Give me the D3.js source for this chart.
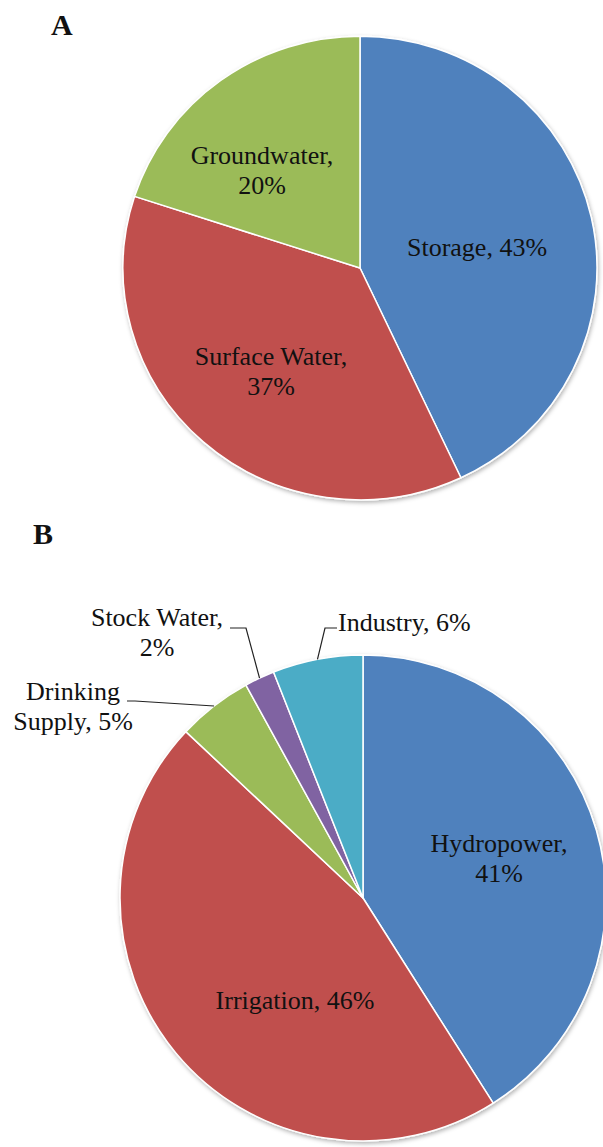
<!DOCTYPE html>
<head>
  <meta charset="utf-8">
  <script src="https://d3js.org/d3.v7.min.js"></script>
  <style>
    body { margin:0; background:#fff; }
    text { font-family: "Liberation Serif", "Times New Roman", serif; fill:#111; }
  </style>
</head>

<body>
  <script>

    var width = 603,
        height = 1147;

    // chart A: water sources
    var sourceNames = ["Storage", "Surface Water", "Groundwater"];
    var sourceShares = [43, 37, 20];
    var sourceColors = ["#4F81BD", "#C0504D", "#9BBB59"];

    // chart B: water uses
    var useNames = ["Hydropower", "Irrigation", "Drinking Supply", "Stock Water", "Industry"];
    var useShares = [41, 46, 5, 2, 6];
    var useColors = ["#4F81BD", "#C0504D", "#9BBB59", "#8064A2", "#4BACC6"];

    // label lines as they wrap in the picture
    var sourceLabels = [["Storage, 43%"], ["Surface Water,", "37%"], ["Groundwater,", "20%"]];
    var useLabels = [["Hydropower,", "41%"], ["Irrigation, 46%"], ["Drinking", "Supply, 5%"], ["Stock Water,", "2%"], ["Industry, 6%"]];

    var svg = d3.select("body").append("svg")
      .attr("width", width)
      .attr("height", height);

    var defs = svg.append("defs");
    var shadow = defs.append("filter").attr("id", "shadow")
      .attr("x", "-10%").attr("y", "-10%").attr("width", "120%").attr("height", "120%");
    shadow.append("feDropShadow")
      .attr("dx", 1).attr("dy", 2).attr("stdDeviation", 2)
      .attr("flood-color", "#000").attr("flood-opacity", 0.3);

    var pie = d3.pie().sort(null).value(function(d) { return d; });

    function drawPie(opt) {
      var g = svg.append("g").attr("transform", "translate(" + opt.cx + "," + opt.cy + ")");
      var arc = d3.arc().innerRadius(0).outerRadius(opt.r);
      var arcs = pie(opt.values);
      var color = d3.scaleOrdinal().domain(opt.names).range(opt.colors);

      var slices = g.append("g")
        .attr("transform", "scale(1," + (opt.sy || 1) + ")")
        .attr("filter", "url(#shadow)");
      slices.selectAll("path").data(arcs).enter()
        .append("path")
        .attr("d", arc)
        .attr("fill", function(d, i) { return color(opt.names[i]); })
        .attr("stroke", "#fff")
        .attr("stroke-width", 1.5)
        .attr("stroke-linejoin", "round");

      // leader lines for the small outside slices
      g.selectAll("path.leader").data(arcs.filter(function(d, i) { return opt.place[i].line; })).enter()
        .append("path")
        .attr("class", "leader")
        .attr("fill", "none")
        .attr("stroke", "#222")
        .attr("stroke-width", 1.2)
        .attr("d", function(d) {
          var i = d.index, p = opt.place[i];
          var a = (d.startAngle + d.endAngle) / 2;
          var end = [Math.sin(a) * opt.r, -Math.cos(a) * opt.r];
          return d3.line()(p.line.concat([end]));
        });

      var labels = g.selectAll("text.lbl").data(arcs).enter()
        .append("text")
        .attr("class", "lbl")
        .attr("font-size", 26)
        .attr("text-anchor", function(d) { return opt.place[d.index].anchor || "middle"; })
        .attr("x", function(d) { return opt.place[d.index].x; })
        .attr("y", function(d) { return opt.place[d.index].y; });

      labels.selectAll("tspan").data(function(d) {
          return opt.labels[d.index].map(function(t) { return { t: t, x: opt.place[d.index].x }; });
        }).enter()
        .append("tspan")
        .attr("x", function(d) { return d.x; })
        .attr("dy", function(d, j) { return j ? 30 : 0; })
        .text(function(d) { return d.t; });
    }

    drawPie({
      cx: 360, cy: 268, r: 237, sy: 0.978,
      names: sourceNames, values: sourceShares, colors: sourceColors, labels: sourceLabels,
      place: [
        { x: 117, y: -12 },
        { x: -89, y: 97 },
        { x: -98, y: -104 }
      ]
    });

    drawPie({
      cx: 363, cy: 898, r: 243,
      names: useNames, values: useShares, colors: useColors, labels: useLabels,
      place: [
        { x: 136, y: -46 },
        { x: -68, y: 111 },
        { x: -290, y: -198, line: [[-236, -197], [-228, -197]] },
        { x: -206, y: -272, line: [[-133, -270], [-117, -270]] },
        { x: -25, y: -267, anchor: "start", line: [[-26, -270], [-38, -270]] }
      ]
    });

    svg.append("text").attr("x", 51).attr("y", 35)
      .attr("font-size", 30).attr("font-weight", "bold").text("A");
    svg.append("text").attr("x", 33).attr("y", 544)
      .attr("font-size", 30).attr("font-weight", "bold").text("B");

  </script>
</body>
